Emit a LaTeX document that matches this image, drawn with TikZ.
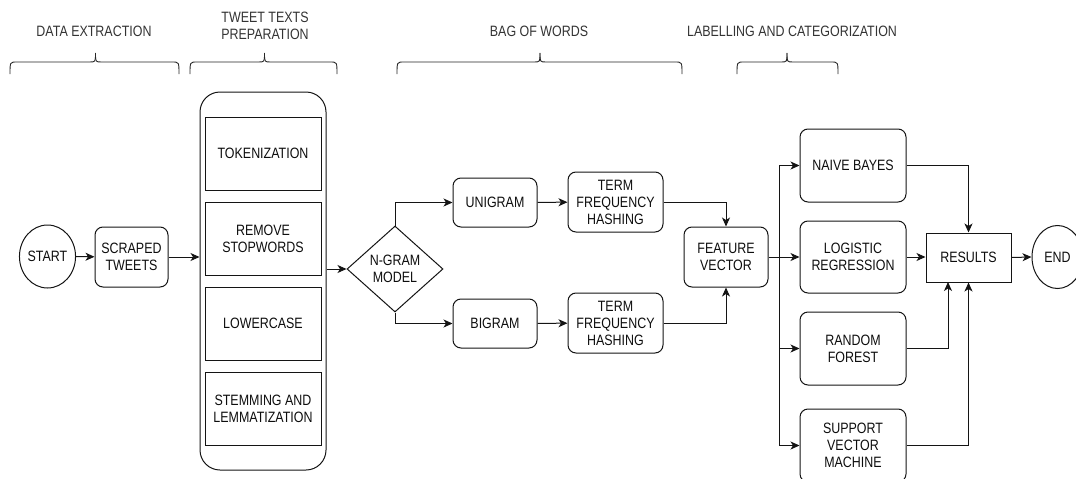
\documentclass[tikz,border=0pt]{standalone}
\usepackage{fontspec}
\setmainfont{Liberation Sans}[FakeStretch=0.83]
\usetikzlibrary{shapes.geometric,arrows.meta}
\begin{document}
\begin{tikzpicture}[x=1pt,y=-1pt,
  every node/.style={font=\fontsize{15}{17}\selectfont, text=black!95, align=center, inner sep=0pt},
  line/.style={line width=1pt, draw=black!92},
  arr/.style={line, -{Stealth[length=9pt,width=8pt,inset=2.5pt]}},
  rbox/.style={line, draw, rounded corners=8pt},
  sbox/.style={line, draw},
  oval/.style={line, draw, ellipse},
  lbl/.style={text=black!80},
  brace/.style={line width=0.9pt, draw=black!85}
]
\useasboundingbox (0,0) rectangle (1076,479);

% top labels
\node[lbl] (lde) at (94,31) {DATA EXTRACTION};
\node[lbl] (ltt) at (265,26) {TWEET TEXTS\\PREPARATION};
\node[lbl] (lbw) at (539,31) {BAG OF WORDS};
\node[lbl] (llc) at (792,31) {LABELLING AND CATEGORIZATION};

% braces
\foreach \a/\m/\b in {10/95.5/179, 190/264.5/337, 397/540/682, 737/787/838}{
  \draw[brace] (\a,74) .. controls (\a,62) .. (\a+7,62) -- (\m-6,62) .. controls (\m,62) .. (\m,53);
  \draw[brace] (\b,74) .. controls (\b,62) .. (\b-7,62) -- (\m+6,62) .. controls (\m,62) .. (\m,53);
}

% nodes
\node[oval, minimum width=51pt, minimum height=63pt] (start) at (47.5,256.5) {START};
\node[rbox, minimum width=73pt, minimum height=60pt] (scr) at (131.5,257) {SCRAPED\\TWEETS};

\node[line, draw, rounded corners=20pt, minimum width=126pt, minimum height=378pt] (cont) at (263,281) {};
\node[sbox, minimum width=116pt, minimum height=73pt] (tok) at (263,153.5) {TOKENIZATION};
\node[sbox, minimum width=116pt, minimum height=73pt] (stop) at (263,238.5) {REMOVE\\STOPWORDS};
\node[sbox, minimum width=116pt, minimum height=73pt] (low) at (263,323.5) {LOWERCASE};
\node[sbox, minimum width=116pt, minimum height=73pt] (stem) at (263,408.5) {STEMMING AND\\LEMMATIZATION};

\node[line, draw, diamond, minimum width=96pt, minimum height=86pt] (ng) at (395,269) {N-GRAM\\MODEL};

\node[rbox, minimum width=84pt, minimum height=49pt] (uni) at (495,202.5) {UNIGRAM};
\node[rbox, minimum width=84pt, minimum height=49pt] (bi) at (495,323.5) {BIGRAM};
\node[rbox, minimum width=95pt, minimum height=60pt] (tf1) at (615.5,202) {TERM\\FREQUENCY\\HASHING};
\node[rbox, minimum width=95pt, minimum height=60pt] (tf2) at (615.5,323) {TERM\\FREQUENCY\\HASHING};
\node[rbox, minimum width=84pt, minimum height=60pt] (feat) at (726,257) {FEATURE\\VECTOR};

\node[rbox, minimum width=106pt, minimum height=73pt] (nb) at (853,165.5) {NAIVE BAYES};
\node[rbox, minimum width=106pt, minimum height=72pt] (lr) at (853,257) {LOGISTIC\\REGRESSION};
\node[rbox, minimum width=106pt, minimum height=73pt] (rf) at (853,348.5) {RANDOM\\FOREST};
\node[rbox, minimum width=106pt, minimum height=73pt] (svm) at (853,445.5) {SUPPORT\\VECTOR\\MACHINE};

\node[sbox, minimum width=85pt, minimum height=49pt] (res) at (968.5,257.5) {RESULTS};
\node[oval, minimum width=51pt, minimum height=63pt] (end) at (1057.5,257) {END};

% connectors
\draw[arr] (start) -- (scr);
\draw[arr] (scr.east) -- (scr.east -| cont.west);
\draw[arr] (cont.east |- ng.west) -- (ng.west);
\draw[arr] (ng.north) |- (uni.west);
\draw[arr] (ng.south) |- (bi.west);
\draw[arr] (uni) -- (tf1);
\draw[arr] (bi) -- (tf2);
\draw[arr] (tf1.east) -| (feat.north);
\draw[arr] (tf2.east) -| (feat.south);

\coordinate (bus) at (779,257);
\draw[arr] (feat.east) -- (lr.west);
\draw[arr] (bus) |- (nb.west);
\draw[arr] (bus) |- (rf.west);
\draw[arr] (bus) |- (svm.west);

\coordinate (rfin) at (948,282);
\draw[arr] (nb.east) -| (res.north);
\draw[arr] (lr.east) -- (res.west |- lr.east);
\draw[arr] (rf.east) -| (rfin);
\draw[arr] (svm.east) -| (res.south);
\draw[arr] (res.east) -- (end.west);
\end{tikzpicture}
\end{document}
